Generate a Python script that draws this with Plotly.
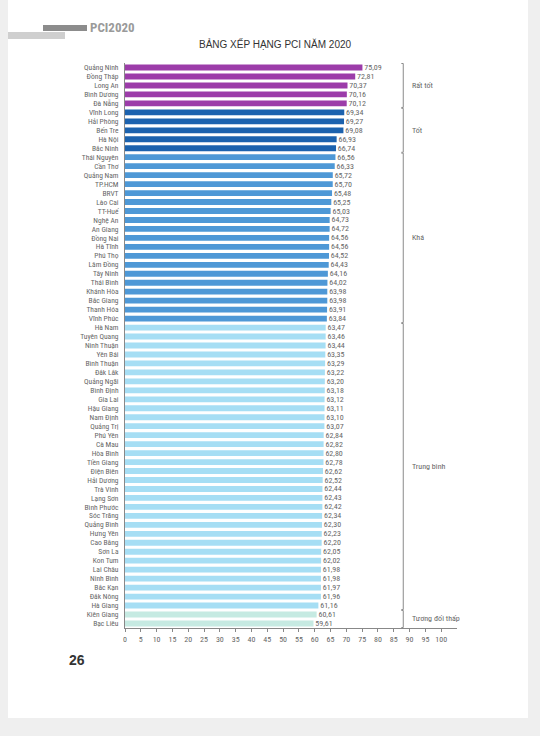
import plotly.graph_objects as go

provinces = ["Quảng Ninh","Đồng Tháp","Long An","Bình Dương","Đà Nẵng",
    "Vĩnh Long","Hải Phòng","Bến Tre","Hà Nội","Bắc Ninh",
    "Thái Nguyên","Cần Thơ","Quảng Nam","TP.HCM","BRVT","Lào Cai","TT-Huế","Nghệ An","An Giang","Đồng Nai",
    "Hà Tĩnh","Phú Thọ","Lâm Đồng","Tây Ninh","Thái Bình","Khánh Hòa","Bắc Giang","Thanh Hóa","Vĩnh Phúc",
    "Hà Nam","Tuyên Quang","Ninh Thuận","Yên Bái","Bình Thuận","Đắk Lắk","Quảng Ngãi","Bình Định","Gia Lai",
    "Hậu Giang","Nam Định","Quảng Trị","Phú Yên","Cà Mau","Hòa Bình","Tiền Giang","Điện Biên","Hải Dương",
    "Trà Vinh","Lạng Sơn","Bình Phước","Sóc Trăng","Quảng Bình","Hưng Yên","Cao Bằng","Sơn La","Kon Tum",
    "Lai Châu","Ninh Bình","Bắc Kạn","Đắk Nông","Hà Giang","Kiên Giang","Bạc Liêu"]
scores = [75.09,72.81,70.37,70.16,70.12,
    69.34,69.27,69.08,66.93,66.74,
    66.56,66.33,65.72,65.70,65.48,65.25,65.03,64.73,64.72,64.56,
    64.56,64.52,64.43,64.16,64.02,63.98,63.98,63.91,63.84,
    63.47,63.46,63.44,63.35,63.29,63.22,63.20,63.18,63.12,
    63.11,63.10,63.07,62.84,62.82,62.80,62.78,62.62,62.52,
    62.44,62.43,62.42,62.34,62.30,62.23,62.20,62.05,62.02,
    61.98,61.98,61.97,61.96,61.16,60.61,59.61]
groups = ["Rất tốt", "Tốt", "Khá", "Trung bình", "Tương đối thấp"]
group_sizes = [5, 5, 19, 32, 2]
group_colors = ["#9c3ca9", "#1c62ae", "#4e98d6", "#a6def4", "#c6eae2"]
x_ticks = list(range(0, 101, 5))

bar_colors = []
for c, n in zip(group_colors, group_sizes):
    bar_colors += [c] * n

W, H = 540, 736
ML, MR, MT, MB = 125, 83, 63, 108
pw, ph = W - ML - MR, H - MT - MB
def px(x): return (x - ML) / pw
def py(y): return (H - MB - y) / ph

FONT = "Liberation Sans Narrow, Roboto Condensed, Roboto, Arial"
TXT = "#666666"

fig = go.Figure(go.Bar(
    y=provinces, x=scores, orientation="h",
    marker=dict(color=bar_colors, line=dict(width=0)),
    text=scores, texttemplate=" %{x:.2f}", textposition="outside",
    constraintext="none",
    textfont=dict(size=8, color=TXT, family=FONT),
    cliponaxis=False,
))

shapes = []
shapes.append(dict(type="rect", xref="paper", yref="paper", x0=px(8), x1=px(528), y0=py(0), y1=py(718),
                   fillcolor="white", line=dict(width=0), layer="below"))
shapes.append(dict(type="rect", xref="paper", yref="paper", x0=px(43), x1=px(87), y0=py(25), y1=py(31),
                   fillcolor="#8c8c8c", line=dict(width=0)))
shapes.append(dict(type="rect", xref="paper", yref="paper", x0=px(8), x1=px(65), y0=py(32), y1=py(39),
                   fillcolor="#cfcfcf", line=dict(width=0)))

annotations = []
start = 0
bx = 88
for g, n in zip(groups, group_sizes):
    y0 = start - 0.45
    y1 = start + n - 1 + 0.45
    shapes.append(dict(type="line", xref="x", yref="y", x0=bx, x1=bx, y0=y0, y1=y1,
                       line=dict(color="#8a8a8a", width=1)))
    for yy in (y0, y1):
        shapes.append(dict(type="line", xref="x", yref="y", x0=bx - 0.6, x1=bx, y0=yy, y1=yy,
                           line=dict(color="#8a8a8a", width=1)))
    mid = start + (n - 1) / 2
    annotations.append(dict(x=bx + 2, y=mid, xref="x", yref="y", text=g, showarrow=False,
                            xanchor="left", yanchor="middle", font=dict(size=8, color=TXT, family=FONT)))
    start += n

annotations.append(dict(x=px(88), y=py(28), xref="paper", yref="paper", text="<b>PCI2020</b>",
                        showarrow=False, xanchor="left", yanchor="middle",
                        font=dict(size=13, color="#9a9a9a", family=FONT)))
annotations.append(dict(x=px(275), y=py(44), xref="paper", yref="paper", text="BẢNG XẾP HẠNG PCI NĂM 2020",
                        showarrow=False, xanchor="center", yanchor="middle",
                        font=dict(size=10, color="#333333", family="Liberation Sans, Arial")))
annotations.append(dict(x=px(67), y=py(660), xref="paper", yref="paper", text="<b>26</b>",
                        showarrow=False, xanchor="left", yanchor="middle",
                        font=dict(size=14, color="#333333", family="Liberation Sans, Arial")))

fig.update_layout(
    width=W, height=H,
    margin=dict(l=ML, r=MR, t=MT, b=MB),
    paper_bgcolor="#efefef", plot_bgcolor="rgba(0,0,0,0)",
    separators=",.",
    showlegend=False,
    bargap=0.35,
    shapes=shapes, annotations=annotations,
    xaxis=dict(range=[0, 105], tickvals=x_ticks, showgrid=False, zeroline=False,
               showline=True, linecolor="#888888", linewidth=1,
               ticks="outside", ticklen=3, tickcolor="#888888",
               tickfont=dict(size=8, color=TXT, family=FONT)),
    yaxis=dict(autorange="reversed", showgrid=False, zeroline=False,
               showline=True, linecolor="#888888", linewidth=1,
               tickmode="array", tickvals=provinces, ticktext=provinces,
               ticks="", ticklabelstandoff=4,
               tickfont=dict(size=7.5, color=TXT, family=FONT)),
)

fig.write_html("out.html", config={"displayModeBar": False},
               post_script="document.body.style.margin='0px';document.body.style.overflow='hidden';")
